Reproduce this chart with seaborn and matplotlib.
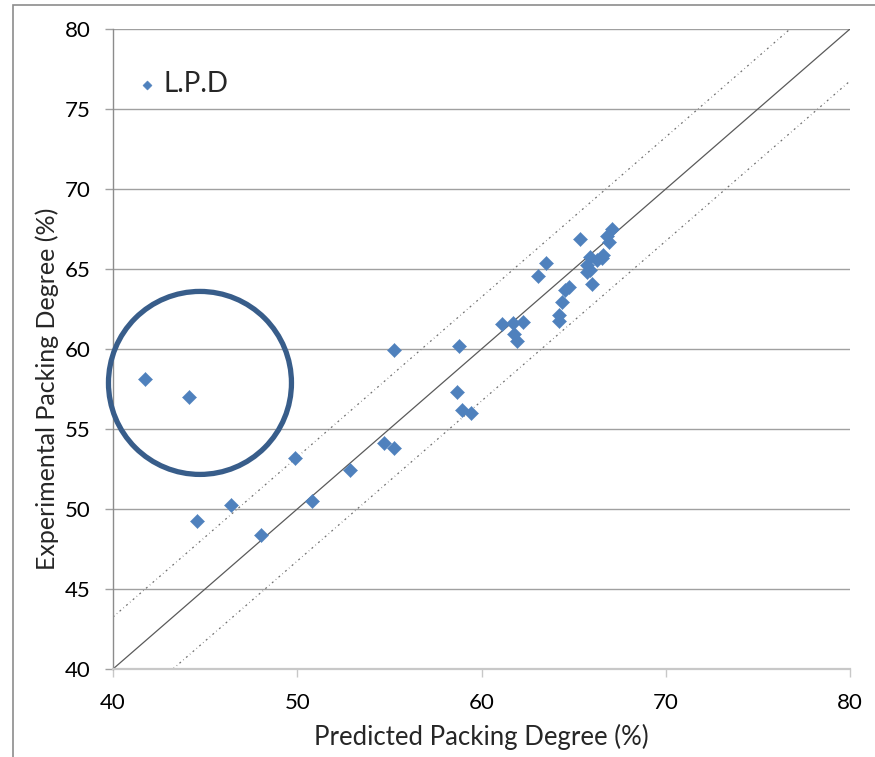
import matplotlib
matplotlib.use("Agg")
import matplotlib.pyplot as plt
import seaborn as sns
import pandas as pd
from matplotlib.patches import Ellipse, Rectangle

# Predicted vs. experimental packing degree (%)
predicted = [41.74, 44.14, 44.58, 46.41, 48.03, 49.88, 50.80, 52.87, 54.71, 55.23,
             55.25, 58.76, 58.65, 58.92, 59.41, 61.09, 61.72, 62.26, 61.77, 61.95,
             63.08, 63.49, 65.37, 67.06, 66.80, 66.94, 66.61, 65.89, 66.25, 65.70,
             65.89, 65.70, 66.00, 64.77, 64.53, 64.35, 64.22, 64.22, 66.54]
experimental = [58.10, 57.00, 49.25, 50.27, 48.40, 53.19, 50.50, 52.42, 54.14, 53.81,
                59.94, 60.21, 57.31, 56.19, 56.00, 61.58, 61.64, 61.69, 60.92, 60.52,
                64.56, 65.39, 66.90, 67.50, 67.08, 66.66, 65.88, 65.77, 65.56, 65.25,
                64.94, 64.83, 64.04, 63.90, 63.69, 62.96, 62.13, 61.75, 65.69]
series_name = "L.P.D"

axis_min, axis_max = 40, 80
tolerance = 3.25  # width of the dotted band around the parity line
outlier_center = (44.72, 57.88)

df = pd.DataFrame({"Predicted": predicted, "Experimental": experimental})

sns.set_style("white")
plt.rcParams["font.family"] = ["Lato", "DejaVu Sans"]

fig = plt.figure(figsize=(8.75, 7.57), dpi=100)
ax = fig.add_axes([113 / 875, 1 - 669 / 757, 737 / 875, 640 / 757])

# outer chart frame
fig.patches.append(Rectangle((13 / 875, -0.05), 1.0, 1 - 5 / 757 + 0.05,
                             transform=fig.transFigure, fill=False,
                             edgecolor="#8c8c8c", linewidth=1.2, zorder=0))

grid_color = "#a0a0a0"
for yv in range(axis_min + 5, axis_max + 1, 5):
    ax.axhline(yv, color=grid_color, lw=1.0, zorder=0)

# parity line and tolerance band
ax.plot([axis_min, axis_max], [axis_min, axis_max], color="#5a5a5a", lw=0.9, zorder=1)
ax.plot([axis_min, axis_max - tolerance], [axis_min + tolerance, axis_max],
        color="#707070", lw=0.9, ls=(0, (1.5, 2.5, 0.5, 2.5)), zorder=1)
ax.plot([axis_min + tolerance, axis_max], [axis_min, axis_max - tolerance],
        color="#707070", lw=0.9, ls=(0, (1.5, 2.5, 0.5, 2.5)), zorder=1)

sns.scatterplot(data=df, x="Predicted", y="Experimental", ax=ax, marker="D",
                s=52, color="#4f81bd", edgecolor="#4f81bd", linewidth=0.3,
                label=series_name, zorder=3)

# highlight of the two outliers
ax.add_patch(Ellipse(outlier_center, width=183 / 18.425, height=183 / 16,
                     fill=False, edgecolor="#385d8a", linewidth=3.8, zorder=4,
                     clip_on=False))

ax.set_xlim(axis_min, axis_max)
ax.set_ylim(axis_min, axis_max)
ax.set_xticks(range(axis_min, axis_max + 1, 10))
ax.set_yticks(range(axis_min, axis_max + 1, 5))

for side in ["top", "right"]:
    ax.spines[side].set_visible(False)
ax.spines["left"].set_color("#8c8c8c")
ax.spines["bottom"].set_color("#c8c8c8")
ax.spines["left"].set_linewidth(1.0)
ax.spines["bottom"].set_linewidth(1.6)

ax.tick_params(axis="y", direction="out", length=6, width=1.0, color=grid_color,
               pad=10, labelsize=16, labelcolor="black", left=True)
ax.tick_params(axis="x", direction="out", length=6, width=1.0, color="#c8c8c8",
               pad=11, labelsize=16, labelcolor="black", bottom=True)

ax.set_xlabel("Predicted Packing Degree (%)", fontsize=18.5, labelpad=8)
ax.set_ylabel("Experimental Packing Degree (%)", fontsize=18, labelpad=4)
ax.yaxis.label.set_y(0.438)

leg = ax.legend(loc="upper left", bbox_to_anchor=(0.012, 0.952), frameon=False,
                fontsize=20, handletextpad=0.1, handlelength=1.0,
                markerscale=0.65, borderaxespad=0)

fig.savefig("out.png", dpi=100, facecolor="white")
